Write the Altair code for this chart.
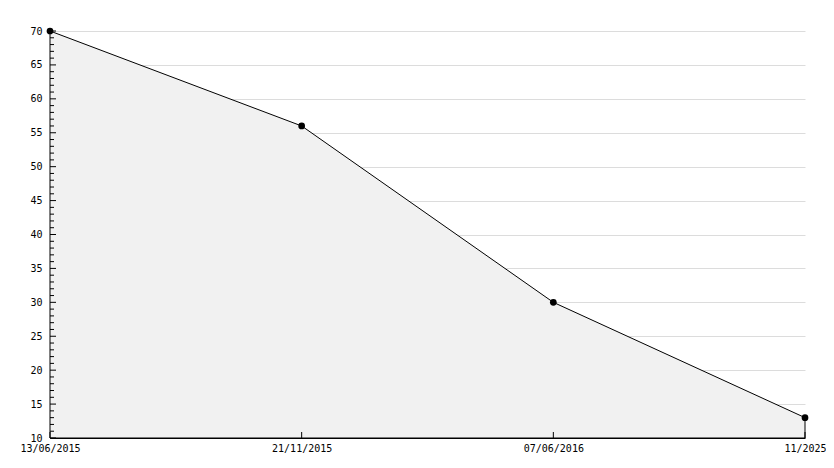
import altair as alt
import pandas as pd

# --- data ---
dates = ["13/06/2015", "21/11/2015", "07/06/2016", "11/2025"]
values = [70, 56, 30, 13]
y_major = list(range(10, 71, 5))
y_minor = [v for v in range(10, 71) if v % 5]

df = pd.DataFrame({"date": dates, "value": values})
major_df = pd.DataFrame({"value": y_major})
minor_df = pd.DataFrame({"value": y_minor})

FONT = "DejaVu Sans Mono"
W, H = 755, 407

xscale = alt.Scale(type="point", domain=dates, padding=0)
yscale = alt.Scale(domain=[10, 70], nice=False, zero=False)

x_axis = alt.Axis(title=None, labelAngle=0, ticks=False, grid=False,
                  domainColor="black", domainWidth=1, labelPadding=5,
                  labelFont=FONT, labelFontSize=10, labelColor="black",
                  labelOverlap=False)
y_axis = alt.Axis(title=None, values=y_major, ticks=False, grid=True,
                  gridColor="#dcdcdc", gridWidth=1, domainColor="black",
                  domainWidth=1, labelPadding=8, labelFont=FONT,
                  labelFontSize=10, labelColor="black", labelOverlap=False)

X = alt.X("date:N", scale=xscale, sort=dates, axis=x_axis)
Y = alt.Y("value:Q", scale=yscale, axis=y_axis)

area = alt.Chart(df).mark_area(fill="#f1f1f1", stroke="black", strokeWidth=1,
                               opacity=1).encode(x=X, y=Y, y2=alt.datum(10))

points = alt.Chart(df).mark_point(filled=True, color="black", size=45,
                                  opacity=1).encode(x=X, y=Y)

major_ticks = alt.Chart(major_df).mark_rule(color="black", strokeWidth=1).encode(
    y=Y, x=alt.value(0), x2=alt.value(6),
)

minor_ticks = alt.Chart(minor_df).mark_rule(color="black", strokeWidth=1).encode(
    y=Y, x=alt.value(0), x2=alt.value(4),
)

x_ticks = alt.Chart(df).mark_rule(color="black", strokeWidth=1).encode(
    x=X, y=alt.value(H - 6), y2=alt.value(H),
)

chart = alt.layer(area, major_ticks, minor_ticks, x_ticks, points).properties(
    width=W,
    height=H,
    autosize=alt.AutoSizeParams(type="none"),
    padding={"left": 42, "top": 23, "right": 21, "bottom": 22},
    background="white",
).configure_view(stroke=None)

chart.save("out.html", embed_options={"renderer": "svg", "actions": False})
